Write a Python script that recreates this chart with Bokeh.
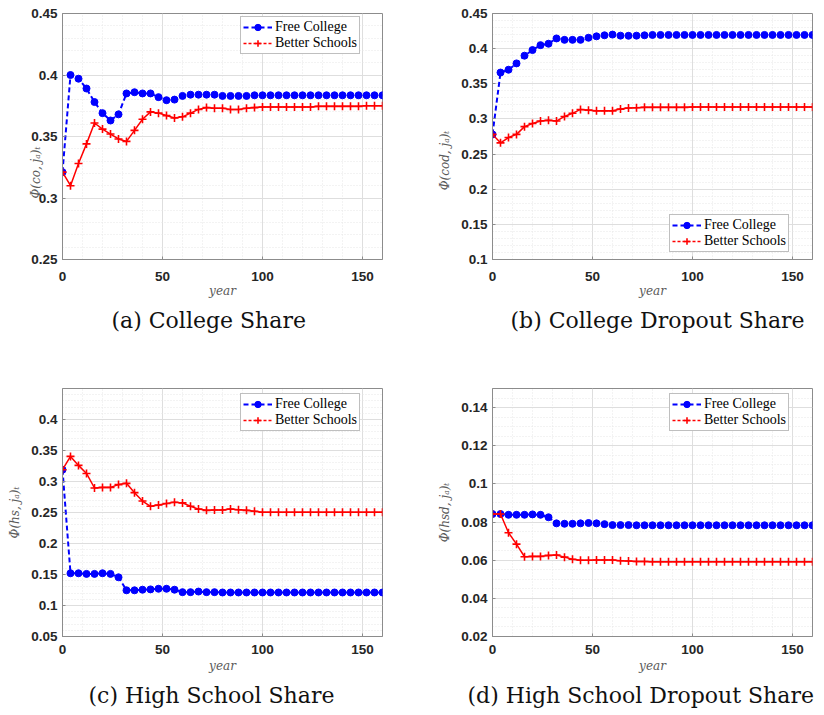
from bokeh.plotting import figure
from bokeh.models import (FixedTicker, CustomJSTickFormatter, Legend, LegendItem,
                          Title, Range1d)
from bokeh.layouts import column, row
from bokeh.embed import file_html
from bokeh.resources import INLINE

# ---------------- data ----------------
years = [0, 4, 8, 12, 16, 20, 24, 28, 32, 36, 40, 44, 48, 52, 56, 60, 64, 68, 72, 76,
         80, 84, 88, 92, 96, 100, 104, 108, 112, 116, 120, 124, 128, 132, 136, 140,
         144, 148, 152, 156, 160]

a_free = [0.321, 0.400, 0.397, 0.389, 0.378, 0.369, 0.363, 0.368, 0.385, 0.386,
          0.385, 0.385, 0.382, 0.3795, 0.380, 0.383, 0.384, 0.384, 0.384, 0.384,
          0.383, 0.383, 0.383, 0.383, 0.3835, 0.3835, 0.3835, 0.3835, 0.3835, 0.3835,
          0.3835, 0.3835, 0.3835, 0.3835, 0.3835, 0.3835, 0.3835, 0.3835, 0.3835, 0.3835,
          0.3835]
a_better = [0.321, 0.310, 0.328, 0.344, 0.361, 0.356, 0.352, 0.348, 0.346, 0.355,
            0.364, 0.370, 0.369, 0.367, 0.365, 0.366, 0.369, 0.372, 0.3735, 0.373,
            0.373, 0.372, 0.372, 0.373, 0.3735, 0.374, 0.374, 0.374, 0.374, 0.374,
            0.374, 0.374, 0.3745, 0.3745, 0.3745, 0.3745, 0.3745, 0.3745, 0.375, 0.375,
            0.375]

b_free = [0.278, 0.366, 0.370, 0.379, 0.390, 0.398, 0.405, 0.407, 0.4145, 0.4125,
          0.4125, 0.4125, 0.4155, 0.4175, 0.419, 0.420, 0.4185, 0.4183, 0.4185, 0.419,
          0.4195, 0.4195, 0.4195, 0.4195, 0.4195, 0.4195, 0.4195, 0.4195, 0.4195, 0.4195,
          0.4195, 0.4195, 0.4195, 0.4195, 0.4195, 0.4195, 0.4195, 0.4195, 0.4195, 0.4195,
          0.4195]
b_better = [0.278, 0.266, 0.2735, 0.278, 0.289, 0.2935, 0.297, 0.298, 0.297, 0.3035,
            0.308, 0.3135, 0.3125, 0.3115, 0.3115, 0.3115, 0.314, 0.3155, 0.316, 0.3165,
            0.3165, 0.3165, 0.3165, 0.3165, 0.3165, 0.317, 0.317, 0.317, 0.317, 0.317,
            0.317, 0.317, 0.317, 0.317, 0.317, 0.317, 0.317, 0.317, 0.317, 0.317,
            0.317]

c_free = [0.319, 0.152, 0.152, 0.151, 0.151, 0.152, 0.151, 0.1455, 0.1245, 0.1245,
          0.1255, 0.126, 0.127, 0.127, 0.1255, 0.1215, 0.1215, 0.1225, 0.1215, 0.1215,
          0.121, 0.121, 0.121, 0.121, 0.121, 0.121, 0.121, 0.121, 0.121, 0.121,
          0.121, 0.121, 0.121, 0.121, 0.121, 0.121, 0.121, 0.121, 0.121, 0.121,
          0.121]
c_better = [0.319, 0.3405, 0.326, 0.313, 0.2895, 0.2905, 0.2905, 0.295, 0.297, 0.282,
            0.2685, 0.260, 0.262, 0.2645, 0.2665, 0.2655, 0.260, 0.2555, 0.2535, 0.254,
            0.254, 0.2555, 0.2545, 0.2535, 0.252, 0.2505, 0.2505, 0.2505, 0.2505, 0.2505,
            0.2505, 0.2505, 0.2505, 0.2505, 0.2505, 0.2505, 0.2505, 0.2505, 0.2505, 0.2505,
            0.2505]

d_free = [0.0842, 0.0842, 0.0838, 0.0838, 0.0838, 0.0840, 0.0838, 0.0825, 0.0793, 0.0791,
          0.0791, 0.0793, 0.0795, 0.0793, 0.0789, 0.0784, 0.0784, 0.0784, 0.0783, 0.0783,
          0.0783, 0.0783, 0.0783, 0.0783, 0.0783, 0.0783, 0.0783, 0.0783, 0.0783, 0.0783,
          0.0783, 0.0783, 0.0783, 0.0783, 0.0783, 0.0783, 0.0783, 0.0783, 0.0783, 0.0783,
          0.0783]
d_better = [0.0842, 0.0842, 0.0744, 0.0684, 0.0618, 0.0620, 0.0620, 0.0625, 0.0627, 0.0616,
            0.0605, 0.0600, 0.0600, 0.0601, 0.0601, 0.0601, 0.0597, 0.0596, 0.0593, 0.0593,
            0.0592, 0.0592, 0.0592, 0.0592, 0.0592, 0.0592, 0.0592, 0.0592, 0.0592, 0.0592,
            0.0592, 0.0592, 0.0592, 0.0592, 0.0592, 0.0592, 0.0592, 0.0592, 0.0592, 0.0592,
            0.0592]

series_names = ["Free College", "Better Schools"]
x_ticks = [0, 50, 100, 150]
a_yticks = [0.25, 0.3, 0.35, 0.4, 0.45]
b_yticks = [0.1, 0.15, 0.2, 0.25, 0.3, 0.35, 0.4, 0.45]
c_yticks = [0.05, 0.1, 0.15, 0.2, 0.25, 0.3, 0.35, 0.4]
d_yticks = [0.02, 0.04, 0.06, 0.08, 0.1, 0.12, 0.14]

captions = ["(a) College Share", "(b) College Dropout Share",
            "(c) High School Share", "(d) High School Dropout Share"]
ylabels = ["\u03a6(co, j\u2090)\u209c", "\u03a6(cod, j\u2090)\u209c",
           "\u03a6(hs, j\u2090)\u209c", "\u03a6(hsd, j\u2090)\u209c"]

BLUE = "#0000ff"
RED = "#ff0000"
AXC = "#8c8c8c"
SERIF = "DejaVu Serif"
LEGSERIF = "Liberation Serif"
EMSP = "\u2003"
fmt = CustomJSTickFormatter(code="return String(+tick.toFixed(4));")


def frange(a, b, step):
    out = []
    k = 0
    while a + k * step <= b + 1e-9:
        out.append(round(a + k * step, 6))
        k += 1
    return out


def panel(free, better, ylabel, caption, y0, y1, yticks, ystep,
          leg_xy, width, height, bl, br, bt, bb,
          ylab_standoff, ylab_pad, xtick_standoff, xlab_standoff, cap_offset):
    p = figure(width=width, height=height, output_backend="svg",
               toolbar_location=None,
               x_range=Range1d(0, 160), y_range=Range1d(y0, y1),
               min_border_left=bl, min_border_right=br,
               min_border_top=bt, min_border_bottom=bb)
    p.background_fill_color = "white"
    p.border_fill_color = "white"
    p.outline_line_color = AXC
    p.outline_line_width = 1

    p.xaxis.ticker = FixedTicker(ticks=x_ticks, minor_ticks=frange(0, 160, 10))
    p.yaxis.ticker = FixedTicker(ticks=yticks, minor_ticks=frange(y0, y1, ystep))
    p.axis.formatter = fmt
    p.axis.major_label_text_font = "Liberation Sans"
    p.axis.major_label_text_font_style = "bold"
    p.axis.major_label_text_font_size = "13.5px"
    p.axis.major_label_text_color = "#262626"
    p.axis.axis_line_color = AXC
    p.axis.major_tick_line_color = AXC
    p.axis.major_tick_in = 3
    p.axis.major_tick_out = 0
    p.axis.minor_tick_in = 0
    p.axis.minor_tick_out = 0
    p.yaxis.major_label_standoff = 5
    p.xaxis.major_label_standoff = xtick_standoff

    p.xaxis.axis_label = "year"
    # trailing em spaces push the visible label down along the axis, as in the reference
    p.yaxis.axis_label = ylabel + EMSP * ylab_pad
    p.axis.axis_label_text_font = SERIF
    p.axis.axis_label_text_font_style = "italic"
    p.axis.axis_label_text_font_size = "12px"
    p.axis.axis_label_text_color = "#5a5a5a"
    p.yaxis.axis_label_standoff = ylab_standoff
    p.xaxis.axis_label_standoff = xlab_standoff

    p.grid.grid_line_color = "#dedede"
    p.grid.grid_line_width = 1
    p.grid.minor_grid_line_color = "#e6e6e6"
    p.grid.minor_grid_line_dash = "1 2"

    bl_line = p.line(years, free, line_color=BLUE, line_width=2, line_dash="5 3")
    bl_pts = p.scatter(years, free, marker="circle", size=7, fill_color=BLUE, line_color=BLUE)
    p.line(years, better, line_color=RED, line_width=1.5)
    rd_pts = p.scatter(years, better, marker="cross", size=8, line_color=RED, line_width=1.6)
    # hidden dashed twin: only used for the legend glyph
    rd_leg = p.line(years, better, line_color=RED, line_width=1.5, line_dash="3 2", visible=False)

    legend = Legend(items=[LegendItem(label=series_names[0], renderers=[bl_line, bl_pts]),
                           LegendItem(label=series_names[1], renderers=[rd_leg, rd_pts])],
                    location=leg_xy, margin=0, padding=2, spacing=0,
                    glyph_width=29, glyph_height=16, label_height=16,
                    label_standoff=3,
                    label_text_font=LEGSERIF, label_text_font_size="14px",
                    label_text_color="#000000",
                    border_line_color="#808080", border_line_width=1,
                    background_fill_color="white", background_fill_alpha=1.0)
    p.add_layout(legend)

    cap = Title(text=caption, align="left", offset=cap_offset, standoff=10,
                text_font=SERIF, text_font_size="22px", text_font_style="normal",
                text_color="#111111")
    p.add_layout(cap, "below")
    return p


pa = panel(a_free, a_better, ylabels[0], captions[0], 0.25, 0.45, a_yticks, 0.01,
           (178, 205), 412, 380, 62, 30, 13, 121, -15, 6, 12, 0, 49)
pb = panel(b_free, b_better, ylabels[1], captions[1], 0.1, 0.45, b_yticks, 0.01,
           (177, 7), 411, 380, 80, 11, 13, 121, 6, 4, 12, 0, 18)
pc = panel(c_free, c_better, ylabels[2], captions[2], 0.05, 0.45, c_yticks, 0.01,
           (178, 205), 412, 334, 62, 30, 8, 78, 6, 0, 8, 2, 26)
pd = panel(d_free, d_better, ylabels[3], captions[3], 0.02, 0.15, d_yticks, 0.005,
           (177, 205), 411, 334, 80, 11, 8, 78, 6, 0, 8, 2, -25)

layout = column(row(pa, pb), row(pc, pd))
open("out.html", "w").write(file_html(layout, INLINE))
